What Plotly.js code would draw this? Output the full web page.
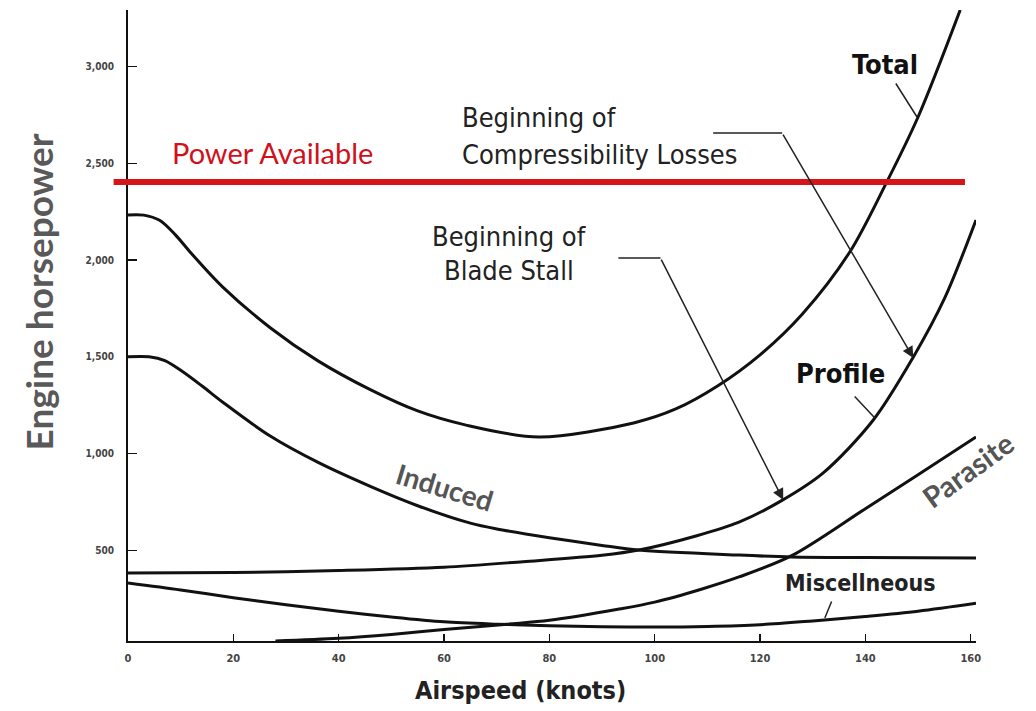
<!DOCTYPE html>
<html>
<head>
<meta charset="utf-8">
<script src="https://cdn.plot.ly/plotly-3.0.1.min.js"></script>
<style>html,body{margin:0;padding:0;background:#fff;}#chart{width:1036px;height:711px;}</style>
</head>
<body>
<div id="chart"></div>
<script>
// ---- data (airspeed in knots, power in horsepower) ----
const totalX = [0, 3, 6, 9, 12, 18, 27, 36, 46, 55, 64, 78, 96, 104, 112, 120, 128, 137, 144, 150, 158];
const totalY = [2233, 2232, 2205, 2130, 2035, 1860, 1650, 1480, 1330, 1220, 1148, 1085, 1158, 1230, 1350, 1510, 1720, 2040, 2400, 2739, 3292];

const inducedX = [0, 4, 7, 10, 14, 18, 27, 36, 46, 55, 65, 70, 80, 90, 97, 116, 126, 140, 161];
const inducedY = [1500, 1500, 1480, 1430, 1350, 1265, 1090, 955, 830, 730, 640, 610, 565, 525, 501, 475, 465, 462, 460];

const profileX = [0, 20, 40, 60, 75, 90, 97, 108, 116, 124, 132, 141.5, 149, 155, 161];
const profileY = [382, 385, 395, 412, 441, 474, 501, 575, 645, 755, 900, 1173, 1494, 1800, 2207];

const parasiteX = [28, 40, 50, 60, 72, 80, 93, 100, 109, 116, 126, 140, 150, 161];
const parasiteY = [31, 45, 65, 90, 118, 138, 195, 232, 300, 362, 472, 715, 890, 1085];

const miscX = [0, 10, 20, 30, 40, 50, 60, 70, 80, 90, 100, 110, 120, 130, 140, 150, 161];
const miscY = [331, 295, 255, 218, 185, 155, 130, 118, 110, 105, 103, 106, 115, 135, 158, 185, 226];

const powerAvailable = 2403;

const xTickVals = [0, 20, 40, 60, 80, 100, 120, 140, 160];
const xTickText = ['0', '20', '40', '60', '80', '100', '120', '140', '160'];
const yTickVals = [500, 1000, 1500, 2000, 2500, 3000];
const yTickText = ['500', '1,000', '1,500', '2,000', '2,500', '3,000'];

// ---- styling ----
const COND = "'DejaVu Sans Condensed', 'Liberation Sans Narrow', 'Arial Narrow', sans-serif";
const CAL = "Lato, 'Open Sans', sans-serif";
const curveLine = {color: '#111', width: 3, shape: 'spline', smoothing: 0.9};

function curve(x, y, name) {
  return {x: x, y: y, name: name, type: 'scatter', mode: 'lines', line: curveLine, hoverinfo: 'skip'};
}

const traces = [
  curve(totalX, totalY, 'Total'),
  curve(inducedX, inducedY, 'Induced'),
  curve(profileX, profileY, 'Profile'),
  curve(parasiteX, parasiteY, 'Parasite'),
  curve(miscX, miscY, 'Miscellneous')
];

function label(text, x, y, font, extra) {
  return Object.assign({text: text, x: x, y: y, xref: 'x', yref: 'y', showarrow: false, font: font}, extra || {});
}
function leader(x, y, ax, ay, head) {
  return {text: '', x: x, y: y, ax: ax, ay: ay, xref: 'x', yref: 'y', axref: 'x', ayref: 'y',
          showarrow: true, arrowhead: head ? 2 : 0, arrowsize: 1.5, arrowwidth: 1.5, arrowcolor: '#222', standoff: 0, startstandoff: 0};
}

const boldCond = {family: COND, size: 27, color: '#111', weight: 700};
const normCond = {family: COND, size: 27, color: '#222'};
const gray = {family: CAL, size: 28, color: '#555', weight: 700};

const annotations = [
  label('Power Available', 27.4, 2558, {family: CAL, size: 29, color: '#d0101a'}),
  label('Total', 143.7, 3008, boldCond),
  label('Beginning of', 63.1, 2734, normCond, {xanchor: 'left'}),
  label('Compressibility Losses', 63.1, 2543, normCond, {xanchor: 'left'}),
  label('Beginning of', 72.4, 2124, normCond),
  label('Blade Stall', 72.4, 1948, normCond),
  label('Profile', 135.2, 1416, boldCond),
  label('Miscellneous', 139, 331, {family: COND, size: 23, color: '#222', weight: 700}),
  label('Induced', 60.2, 827, gray, {textangle: 17}),
  label('Parasite', 159.5, 915, {family: CAL, size: 29, color: '#555', weight: 700}, {textangle: -36}),
  label('Airspeed (knots)', 74.5, -0.078, {family: COND, size: 25, color: '#222', weight: 700}, {yref: 'paper', yanchor: 'middle'}),
  label('Engine horsepower', -0.1055, 1835, {family: CAL, size: 37, color: '#595959', weight: 700}, {xref: 'paper', xanchor: 'center', textangle: -90}),
  leader(149.1, 1494, 124.2, 2656, true),
  leader(124.4, 760, 101.1, 2010, true),
  leader(149.8, 2739, 145.6, 2920, false),
  leader(141.8, 1183, 137.7, 1302, false),
  leader(132.3, 150, 133.7, 243, false)
];

const shapes = [
  {type: 'line', xref: 'paper', yref: 'y', x0: -0.017, x1: 0.987, y0: powerAvailable, y1: powerAvailable,
   line: {color: '#d7141a', width: 6}},
  {type: 'line', xref: 'x', yref: 'y', x0: 111.1, x1: 124.2, y0: 2656, y1: 2656, line: {color: '#222', width: 1.5}},
  {type: 'line', xref: 'x', yref: 'y', x0: 93.1, x1: 101.1, y0: 2010, y1: 2010, line: {color: '#222', width: 1.5}}
];

const layout = {
  width: 1036, height: 711, autosize: false,
  margin: {l: 128, r: 60, t: 10, b: 70, pad: 0},
  paper_bgcolor: '#fff', plot_bgcolor: '#fff',
  showlegend: false,
  xaxis: {
    range: [0, 161], showline: true, linecolor: '#111', linewidth: 2,
    ticks: 'inside', ticklen: 7, tickwidth: 1.5, tickcolor: '#111',
    tickvals: xTickVals, ticktext: xTickText, showgrid: false, zeroline: false,
    tickfont: {family: COND, size: 11, color: '#444', weight: 700}, ticklabelstandoff: 6
  },
  yaxis: {
    range: [31, 3292], showline: true, linecolor: '#111', linewidth: 2,
    ticks: 'inside', ticklen: 9, tickwidth: 1.5, tickcolor: '#111',
    tickvals: yTickVals, ticktext: yTickText, showgrid: false, zeroline: false,
    tickfont: {family: COND, size: 10, color: '#444', weight: 700}, ticklabelstandoff: 10
  },
  annotations: annotations,
  shapes: shapes
};

Plotly.newPlot('chart', traces, layout, {staticPlot: true, displayModeBar: false});
</script>
</body>
</html>
